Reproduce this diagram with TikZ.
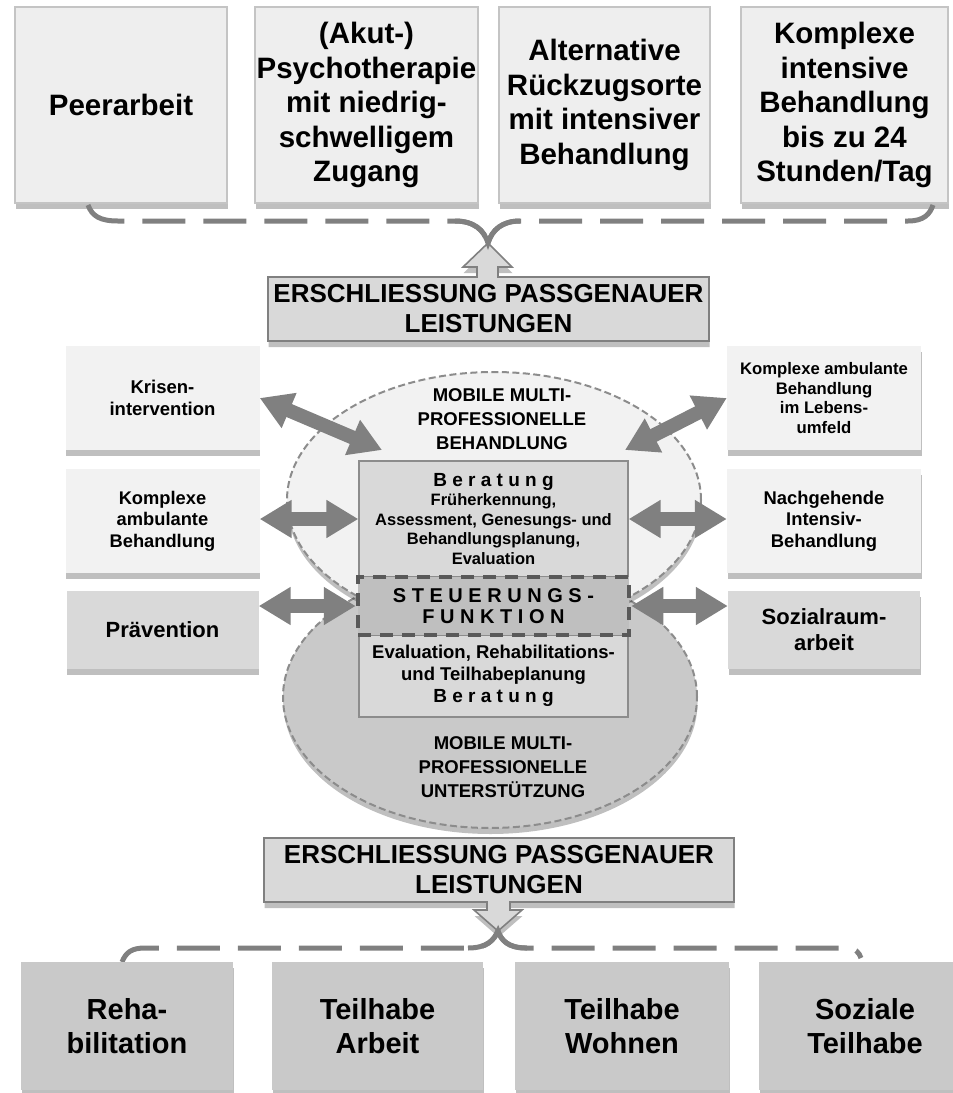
\documentclass[tikz,border=0pt]{standalone}
\usepackage{fontspec}
\setmainfont{Liberation Sans}
\usetikzlibrary{shapes.geometric,shadows,arrows.meta,calc}
\definecolor{topfill}{HTML}{EEEEEE}
\definecolor{topline}{HTML}{C4C4C4}
\definecolor{sidefill}{HTML}{F2F2F2}
\definecolor{midfill}{HTML}{D9D9D9}
\definecolor{botfill}{HTML}{C9C9C9}
\definecolor{arrowgray}{HTML}{808080}
\definecolor{darkline}{HTML}{595959}
\definecolor{steufill}{HTML}{BFBFBF}
\definecolor{ellfill}{HTML}{C9C9C9}
\definecolor{boxline}{HTML}{8C8C8C}
\begin{document}
\begin{tikzpicture}[x=1pt,y=-1pt,
  shad/.style={drop shadow={shadow xshift=0.5pt,shadow yshift=-6pt,opacity=0.25,fill=black}},
  topbox/.style={draw=topline,line width=1.2pt,fill=topfill,shad,minimum width=#1,minimum height=196pt,inner sep=0pt,align=center,font=\bfseries\fontsize{29.5}{34.5}\selectfont},
  sidebox/.style={fill=sidefill,shad,minimum width=194pt,minimum height=104pt,inner sep=0pt,align=center},
  sidedark/.style={fill=midfill,shad,minimum width=192pt,minimum height=78pt,inner sep=0pt,align=center,font=\bfseries\fontsize{22}{26}\selectfont},
  botbox/.style={fill=botfill,shad,minimum width=#1,minimum height=128pt,inner sep=0pt,align=center,font=\bfseries\fontsize{29}{33.5}\selectfont},
  callout/.style={draw=arrowgray,line width=1.6pt,fill=midfill,shad},
  calltext/.style={align=center,inner sep=0pt,font=\bfseries\fontsize{26}{30}\selectfont},
  ellup/.style={ellipse,draw=boxline,line width=2pt,dash pattern=on 7pt off 3.5pt,fill=sidefill,shad,minimum width=414pt,minimum height=256pt,inner sep=0pt},
  elllow/.style={ellipse,draw=boxline,line width=2pt,dash pattern=on 7pt off 3.5pt,fill=ellfill,shad,minimum width=414pt,minimum height=262pt,inner sep=0pt},
  elltext/.style={align=center,inner sep=0pt,font=\bfseries\fontsize{18.5}{24}\selectfont},
  cbox/.style={draw=boxline,line width=1.3pt,fill=midfill,minimum width=269pt,inner sep=0pt,align=center},
  steubox/.style={draw=darkline,line width=4.5pt,dash pattern=on 13pt off 9pt,fill=steufill,minimum width=271pt,minimum height=58pt,inner sep=0pt,align=center,font=\bfseries\fontsize{20}{21}\selectfont},
  dbl/.style={arrowgray,line width=14pt,{Triangle[width=36pt,length=32pt]}-{Triangle[width=36pt,length=32pt]}},
  brace/.style={draw=arrowgray,line width=5pt,dash pattern=on 43pt off 18pt},
  bracesolid/.style={draw=arrowgray,line width=5pt}
]
\useasboundingbox (0,0) rectangle (953,1093);

% top boxes
\node[topbox=212pt] (tb1) at (121,105) {Peerarbeit};
\node[topbox=223pt] (tb2) at (366.5,105) {(Akut-)\\Psychotherapie\\mit niedrig-\\schwelligem\\Zugang};
\node[topbox=211pt] (tb3) at (604.5,105) {Alternative\\Rückzugsorte\\mit intensiver\\Behandlung};
\node[topbox=207pt] (tb4) at (844.5,105) {Komplexe\\intensive\\Behandlung\\bis zu 24\\Stunden/Tag};

% top brace
\coordinate (b1a) at (88,205);
\coordinate (b1tip) at (488,243);
\coordinate (b1b) at (933,205);
\draw[brace] (b1a) .. controls (92,216) and (100,221) .. (118,221) -- (455,221) .. controls (474,221) and (484,230) .. (b1tip);
\draw[brace] (b1tip) .. controls (492,230) and (502,221) .. (520,221) -- (908,221) .. controls (924,221) and (930,214) .. (b1b);

% top callout
\coordinate (e1nw) at (268,277);
\coordinate (e1se) at (709,341);
\path[callout] (e1nw |- e1se) -- (e1nw) -- (477,277) -- (477,267) -- (463,267) -- (b1tip) -- (512,267) -- (498,267) -- (498,277) -- (e1se |- e1nw) -- (e1se) -- cycle;
\draw[bracesolid] (455,221) .. controls (474,221) and (484,230) .. (b1tip) .. controls (492,230) and (502,221) .. (520,221);
\node[calltext] (e1) at (488.5,309) {ERSCHLIESSUNG PASSGENAUER\\LEISTUNGEN};

% ellipses
\node[elllow] (ell2) at (490,697) {};
\node[ellup] (ell1) at (494,500) {};
\node[elltext] (t1) at (502,419) {MOBILE MULTI-\\PROFESSIONELLE\\BEHANDLUNG};
\node[elltext] (t2) at (503,767) {MOBILE MULTI-\\PROFESSIONELLE\\UNTERSTÜTZUNG};

% centre boxes
\node[cbox,minimum height=116pt,font=\bfseries\fontsize{16.5}{19.5}\selectfont] (ber) at (493.5,519)
  {{\fontsize{19}{19.5}\selectfont B e r a t u n g}\\Früherkennung,\\Assessment, Genesungs- und\\Behandlungsplanung,\\Evaluation};
\node[cbox,minimum height=82pt,font=\bfseries\fontsize{18.5}{22}\selectfont] (low) at (493.5,676)
  {Evaluation, Rehabilitations-\\und Teilhabeplanung\\{\fontsize{19}{22}\selectfont B e r a t u n g}};
\node[steubox] (steu) at (493.5,606) {S T E U E R U N G S -\\F U N K T I O N};

% side boxes
\node[sidebox,font=\bfseries\fontsize{18.5}{22}\selectfont] (kris) at (162.5,398) {Krisen-\\intervention};
\node[sidebox,font=\bfseries\fontsize{18.3}{21.5}\selectfont] (kab) at (162.5,521) {Komplexe\\ambulante\\Behandlung};
\node[sidedark] (prae) at (162.5,630) {Prävention};
\node[sidebox,font=\bfseries\fontsize{16.7}{19.5}\selectfont] (lebens) at (824,398) {Komplexe ambulante\\Behandlung\\im Lebens-\\umfeld};
\node[sidebox,font=\bfseries\fontsize{18.4}{21.5}\selectfont] (nach) at (824,521) {Nachgehende\\Intensiv-\\Behandlung};
\node[sidedark] (sozr) at (824,630) {Sozialraum-\\arbeit};

% double arrows
\coordinate (k1) at (382,450);
\coordinate (k2) at (625,450);
\draw[dbl] (kris.east) -- (k1);
\draw[dbl] (k2) -- (lebens.west);
\draw[dbl] (kab.east |- ber.west) -- (ber.west);
\draw[dbl] (ber.east) -- (ber.east -| nach.west);
\draw[dbl] (prae.east |- steu.west) -- (steu.west);
\draw[dbl] (steu.east) -- (steu.east -| sozr.west);

% bottom callout
\coordinate (e2nw) at (264,838);
\coordinate (e2se) at (734,902);
\coordinate (b2tip) at (498,931);
\path[callout] (e2nw) -- (e2se |- e2nw) -- (e2se) -- (510,902) -- (510,910) -- (522,910) -- (b2tip) -- (474,910) -- (487,910) -- (487,902) -- (e2nw |- e2se) -- cycle;
\node[calltext] (e2) at (499,870) {ERSCHLIESSUNG PASSGENAUER\\LEISTUNGEN};

% bottom brace
\coordinate (b2a) at (122,962);
\coordinate (b2b) at (861,958);
\draw[brace] (b2a) .. controls (126,952) and (132,948) .. (145,948) -- (470,948) .. controls (487,948) and (494,940) .. (b2tip);
\draw[brace] (b2tip) .. controls (501,940) and (508,948) .. (525,948) -- (846,948) .. controls (855,948) and (859,952) .. (b2b);
\draw[bracesolid] (468,948) .. controls (487,948) and (494,940) .. (b2tip) .. controls (501,940) and (508,948) .. (527,948);

% bottom boxes
\node[botbox=212pt] (bb1) at (127,1026) {Reha-\\bilitation};
\node[botbox=211pt] (bb2) at (377.5,1026) {Teilhabe\\Arbeit};
\node[botbox=214pt] (bb3) at (622,1026) {Teilhabe\\Wohnen};
\node[botbox=212pt] (bb4) at (865,1026) {Soziale\\Teilhabe};
\end{tikzpicture}
\end{document}
